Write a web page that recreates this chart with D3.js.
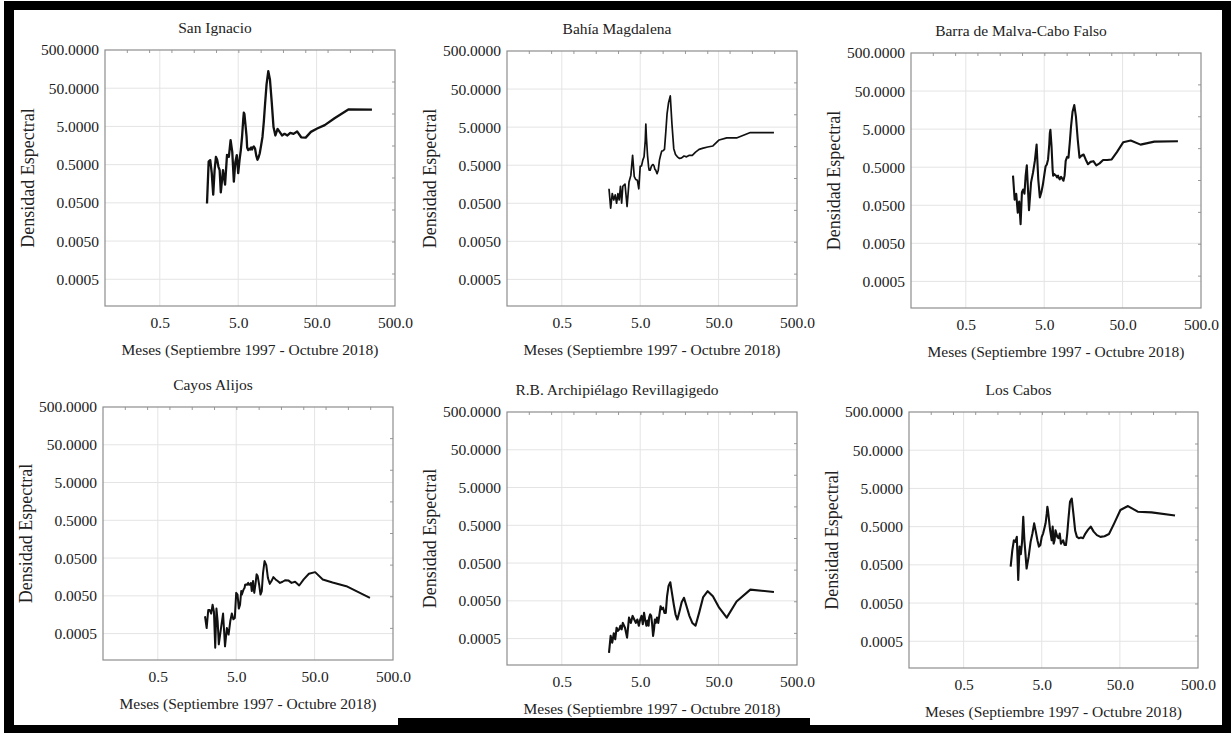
<!DOCTYPE html>
<html>
<head>
<meta charset="utf-8">
<script src="https://cdn.jsdelivr.net/npm/d3@7"></script>
<style>
  html, body { margin: 0; padding: 0; background: #fff; overflow: hidden; }
  svg { display: block; }
</style>
</head>
<body>
<div id="chart"></div>
<script>
// Periods (months) of the spectral estimates, shared by every station
const periods = [254, 127, 84.7, 63.5, 50.8, 42.3, 36.3, 31.8, 28.2, 25.4,
  23.1, 21.2, 19.5, 18.1, 16.9, 15.9, 14.9, 14.1, 13.4, 12.7,
  12.1, 11.5, 11.0, 10.6, 10.2, 9.8, 9.4, 9.1, 8.8, 8.5,
  8.2, 7.9, 7.7, 7.5, 7.3, 7.1, 6.9, 6.7, 6.5, 6.4,
  6.2, 6.0, 5.9, 5.8, 5.6, 5.4, 5.2, 5.0, 4.8, 4.6,
  4.4, 4.2, 4.0, 3.8, 3.6, 3.4, 3.2, 3.0, 2.9, 2.8,
  2.7, 2.6, 2.5, 2.4, 2.3, 2.2, 2.1, 2.0];

// Spectral density per station (same order as periods)
const sanIgnacio = [13.8, 13.9, 8.2, 5.4, 4.4, 3.6, 2.55, 2.6, 3.7, 3.2,
  3.4, 2.9, 3.2, 2.9, 3.6, 4.3, 2.9, 4.8, 21, 85,
  140, 63, 19, 6.5, 2.65, 1.6, 0.98, 0.78, 0.67, 0.86,
  1.32, 1.5, 1.4, 1.25, 1.4, 1.25, 1.3, 1.2, 1.4, 2.65,
  5.3, 10.6, 11.5, 7.8, 2.65, 1.2, 0.66, 0.30, 0.89, 0.59,
  0.18, 1.08, 2.2, 0.8, 0.9, 0.15, 0.36, 0.094, 0.36, 0.44,
  0.66, 0.8, 0.36, 0.082, 0.3, 0.66, 0.6, 0.048];

const bahiaMagdalena = [3.6, 3.6, 2.6, 2.6, 2.3, 1.6, 1.5, 1.4, 1.3, 1.1,
  0.91, 0.91, 0.83, 0.87, 0.78, 0.75, 0.83, 0.96, 1.36, 6.1,
  33, 22, 11.1, 3.7, 1.3, 1.2, 1.17, 0.91, 0.68, 0.37,
  0.30, 0.37, 0.39, 0.48, 0.52, 0.5, 0.45, 0.37, 0.37, 0.45,
  0.91, 2.7, 6.0, 2.2, 0.83, 0.68, 0.48, 0.47, 0.12, 0.2,
  0.21, 0.25, 0.91, 0.27, 0.18, 0.041, 0.16, 0.14, 0.05, 0.14,
  0.061, 0.09, 0.05, 0.083, 0.061, 0.09, 0.037, 0.12];

const barraMalva = [2.4, 2.35, 1.96, 2.5, 2.25, 1.24, 0.80, 0.77, 0.77, 0.63,
  0.56, 0.72, 0.69, 0.60, 0.80, 1.08, 1.0, 0.89, 2.6, 10.6,
  21.4, 14.4, 5.9, 2.2, 0.89, 0.93, 0.73, 0.30, 0.22, 0.25,
  0.28, 0.24, 0.26, 0.30, 0.27, 0.30, 0.31, 0.33, 0.30, 0.44,
  1.8, 4.8, 3.9, 1.96, 0.80, 0.59, 0.52, 0.30, 0.17, 0.11,
  0.08, 0.24, 1.96, 0.73, 0.36, 0.2, 0.037, 0.56, 0.30, 0.10,
  0.13, 0.11, 0.016, 0.063, 0.032, 0.10, 0.07, 0.30];

const cayosAlijos = [0.0044, 0.0090, 0.0113, 0.0136, 0.0212, 0.0192, 0.0136, 0.0094, 0.0118, 0.011,
  0.0128, 0.013, 0.0118, 0.011, 0.0123, 0.0136, 0.0157, 0.0123, 0.0104, 0.0148,
  0.0326, 0.0416, 0.0204, 0.0067, 0.0054, 0.0100, 0.0166, 0.0185, 0.0100, 0.0060,
  0.0123, 0.0067, 0.011, 0.010, 0.0098, 0.011, 0.0098, 0.0100, 0.0098, 0.0082,
  0.0073, 0.0060, 0.0054, 0.0067, 0.0029, 0.0023, 0.0054, 0.0060, 0.0013, 0.0012,
  0.0017, 0.00106, 0.00047, 0.0007, 0.00023, 0.0017, 0.0007, 0.00026, 0.00106, 0.0023,
  0.00021, 0.0019, 0.0029, 0.0017, 0.0021, 0.0021, 0.0007, 0.00144];

const revillagigedo = [0.0086, 0.0099, 0.0048, 0.0018, 0.0033, 0.0066, 0.0090, 0.0063, 0.0024, 0.0011,
  0.0013, 0.0020, 0.0036, 0.0060, 0.0046, 0.0027, 0.0016, 0.0022, 0.0040, 0.0081,
  0.0155, 0.0124, 0.0066, 0.0024, 0.0024, 0.0033, 0.0030, 0.0036, 0.0022, 0.0013,
  0.0018, 0.0013, 0.0016, 0.00088, 0.00059, 0.0012, 0.0020, 0.0022, 0.0018, 0.0011,
  0.0015, 0.0011, 0.0013, 0.0015, 0.0024, 0.0012, 0.0020, 0.0016, 0.0011, 0.0016,
  0.0013, 0.0016, 0.0020, 0.0013, 0.0018, 0.00053, 0.00097, 0.0013, 0.00088, 0.0011,
  0.00088, 0.0008, 0.00097, 0.00048, 0.00069, 0.00039, 0.00059, 0.00021];

const losCabos = [0.98, 1.18, 1.23, 1.73, 1.36, 0.61, 0.32, 0.28, 0.27, 0.30,
  0.37, 0.50, 0.41, 0.33, 0.25, 0.26, 0.25, 0.27, 0.39, 1.11,
  2.73, 2.24, 0.82, 0.33, 0.165, 0.165, 0.22, 0.20, 0.18, 0.33,
  0.25, 0.27, 0.33, 0.40, 0.22, 0.18, 0.50, 0.22, 0.33, 0.40,
  0.74, 1.36, 1.66, 1.11, 0.61, 0.45, 0.33, 0.27, 0.165, 0.15,
  0.22, 0.37, 0.61, 0.33, 0.20, 0.082, 0.040, 0.22, 0.91, 0.20,
  0.095, 0.15, 0.020, 0.27, 0.20, 0.22, 0.12, 0.045];

const titles = ["San Ignacio", "Bahía Magdalena", "Barra de Malva-Cabo Falso",
  "Cayos Alijos", "R.B. Archipiélago Revillagigedo", "Los Cabos"];
const series = [sanIgnacio, bahiaMagdalena, barraMalva, cayosAlijos, revillagigedo, losCabos];

const yTicks = [500, 50, 5, 0.5, 0.05, 0.005, 0.0005];
const xTicks = [0.5, 5, 50, 500];
const xDomain = [0.1, 500];
const yDomain = [0.0001, 500];
const xTitle = "Meses (Septiembre 1997 - Octubre 2018)";
const yTitle = "Densidad Espectral";

// plot boxes of the six panels
const layout = [
  { left: 105, top: 50, w: 290, h: 256, lw: 2.3 },
  { left: 507, top: 51, w: 290, h: 255, lw: 1.7 },
  { left: 911, top: 53, w: 290, h: 255, lw: 2.1 },
  { left: 103, top: 407, w: 290, h: 253, lw: 2.0 },
  { left: 507, top: 412, w: 290, h: 253, lw: 2.1 },
  { left: 909, top: 412, w: 289, h: 256, lw: 2.1 }
];

const serif = '"Liberation Serif", "DejaVu Serif", "Times New Roman", serif';
const width = 1232, height = 733;

const svg = d3.select("#chart")
  .append("svg")
  .attr("width", width)
  .attr("height", height);

svg.append("rect").attr("width", width).attr("height", height).attr("fill", "#fff");

const yFmt = d3.format(".4f");
const xFmt = d3.format(".1f");

layout.forEach((box, i) => {
  const g = svg.append("g").attr("transform", `translate(${box.left},${box.top})`);

  const x = d3.scaleLog().domain(xDomain).range([0, box.w]);
  const y = d3.scaleLog().domain(yDomain).range([box.h, 0]);

  // grid
  g.append("g")
    .selectAll("line")
    .data(xTicks.filter(d => d < 500))
    .join("line")
    .attr("x1", d => x(d)).attr("x2", d => x(d))
    .attr("y1", 0).attr("y2", box.h)
    .attr("stroke", "#e4e4e4");

  g.append("g")
    .selectAll("line")
    .data(yTicks.filter(d => d < 500))
    .join("line")
    .attr("x1", 0).attr("x2", box.w)
    .attr("y1", d => y(d)).attr("y2", d => y(d))
    .attr("stroke", "#e4e4e4");

  // small inner ticks on top and right edges
  g.append("g")
    .selectAll("line")
    .data(d3.range(1, 13))
    .join("line")
    .attr("x1", k => k * box.w / 13).attr("x2", k => k * box.w / 13)
    .attr("y1", 0).attr("y2", 3)
    .attr("stroke", "#999");

  g.append("g")
    .selectAll("line")
    .data(d3.range(1, 8))
    .join("line")
    .attr("y1", k => k * box.h / 8).attr("y2", k => k * box.h / 8)
    .attr("x1", box.w).attr("x2", box.w - 3)
    .attr("stroke", "#999");

  // frame
  g.append("rect")
    .attr("width", box.w).attr("height", box.h)
    .attr("fill", "none")
    .attr("stroke", "#8e8e8e")
    .attr("stroke-width", 1.2);

  // axes
  const yAxis = g.append("g")
    .call(d3.axisLeft(y).tickValues(yTicks).tickFormat(yFmt).tickSize(0).tickPadding(6));
  yAxis.select(".domain").remove();

  const xAxis = g.append("g")
    .attr("transform", `translate(0,${box.h})`)
    .call(d3.axisBottom(x).tickValues(xTicks).tickFormat(xFmt).tickSize(0).tickPadding(11));
  xAxis.select(".domain").remove();

  g.selectAll(".tick text")
    .style("font-family", serif)
    .style("font-size", "15.5px")
    .style("fill", "#222");

  // spectrum line
  const line = d3.line()
    .x((d, j) => x(periods[j]))
    .y(d => y(d));

  g.append("path")
    .datum(series[i])
    .attr("d", line)
    .attr("fill", "none")
    .attr("stroke", "#111")
    .attr("stroke-width", box.lw)
    .attr("stroke-linejoin", "round");

  // labels
  g.append("text")
    .attr("x", box.w / 2 - 35)
    .attr("y", -17)
    .attr("text-anchor", "middle")
    .style("font-family", serif)
    .style("font-size", "15.5px")
    .style("fill", "#222")
    .text(titles[i]);

  g.append("text")
    .attr("x", box.w / 2)
    .attr("y", box.h + 49)
    .attr("text-anchor", "middle")
    .style("font-family", serif)
    .style("font-size", "15.5px")
    .style("fill", "#222")
    .text(xTitle);

  g.append("text")
    .attr("transform", `translate(-77,${box.h / 2}) rotate(-90)`)
    .attr("text-anchor", "middle")
    .attr("dominant-baseline", "central")
    .style("font-family", serif)
    .style("font-size", "18px")
    .style("fill", "#222")
    .text(yTitle);
});

// black screenshot frame, drawn on top
const frame = svg.append("g").attr("fill", "#000");
frame.append("rect").attr("x", 4).attr("y", 1).attr("width", 1227).attr("height", 9);
frame.append("rect").attr("x", 4).attr("y", 1).attr("width", 10).attr("height", 732);
frame.append("rect").attr("x", 1222).attr("y", 1).attr("width", 9).attr("height", 732);
frame.append("rect").attr("x", 4).attr("y", 725).attr("width", 1227).attr("height", 8);
frame.append("rect").attr("x", 398).attr("y", 718).attr("width", 412).attr("height", 15);
</script>
</body>
</html>
